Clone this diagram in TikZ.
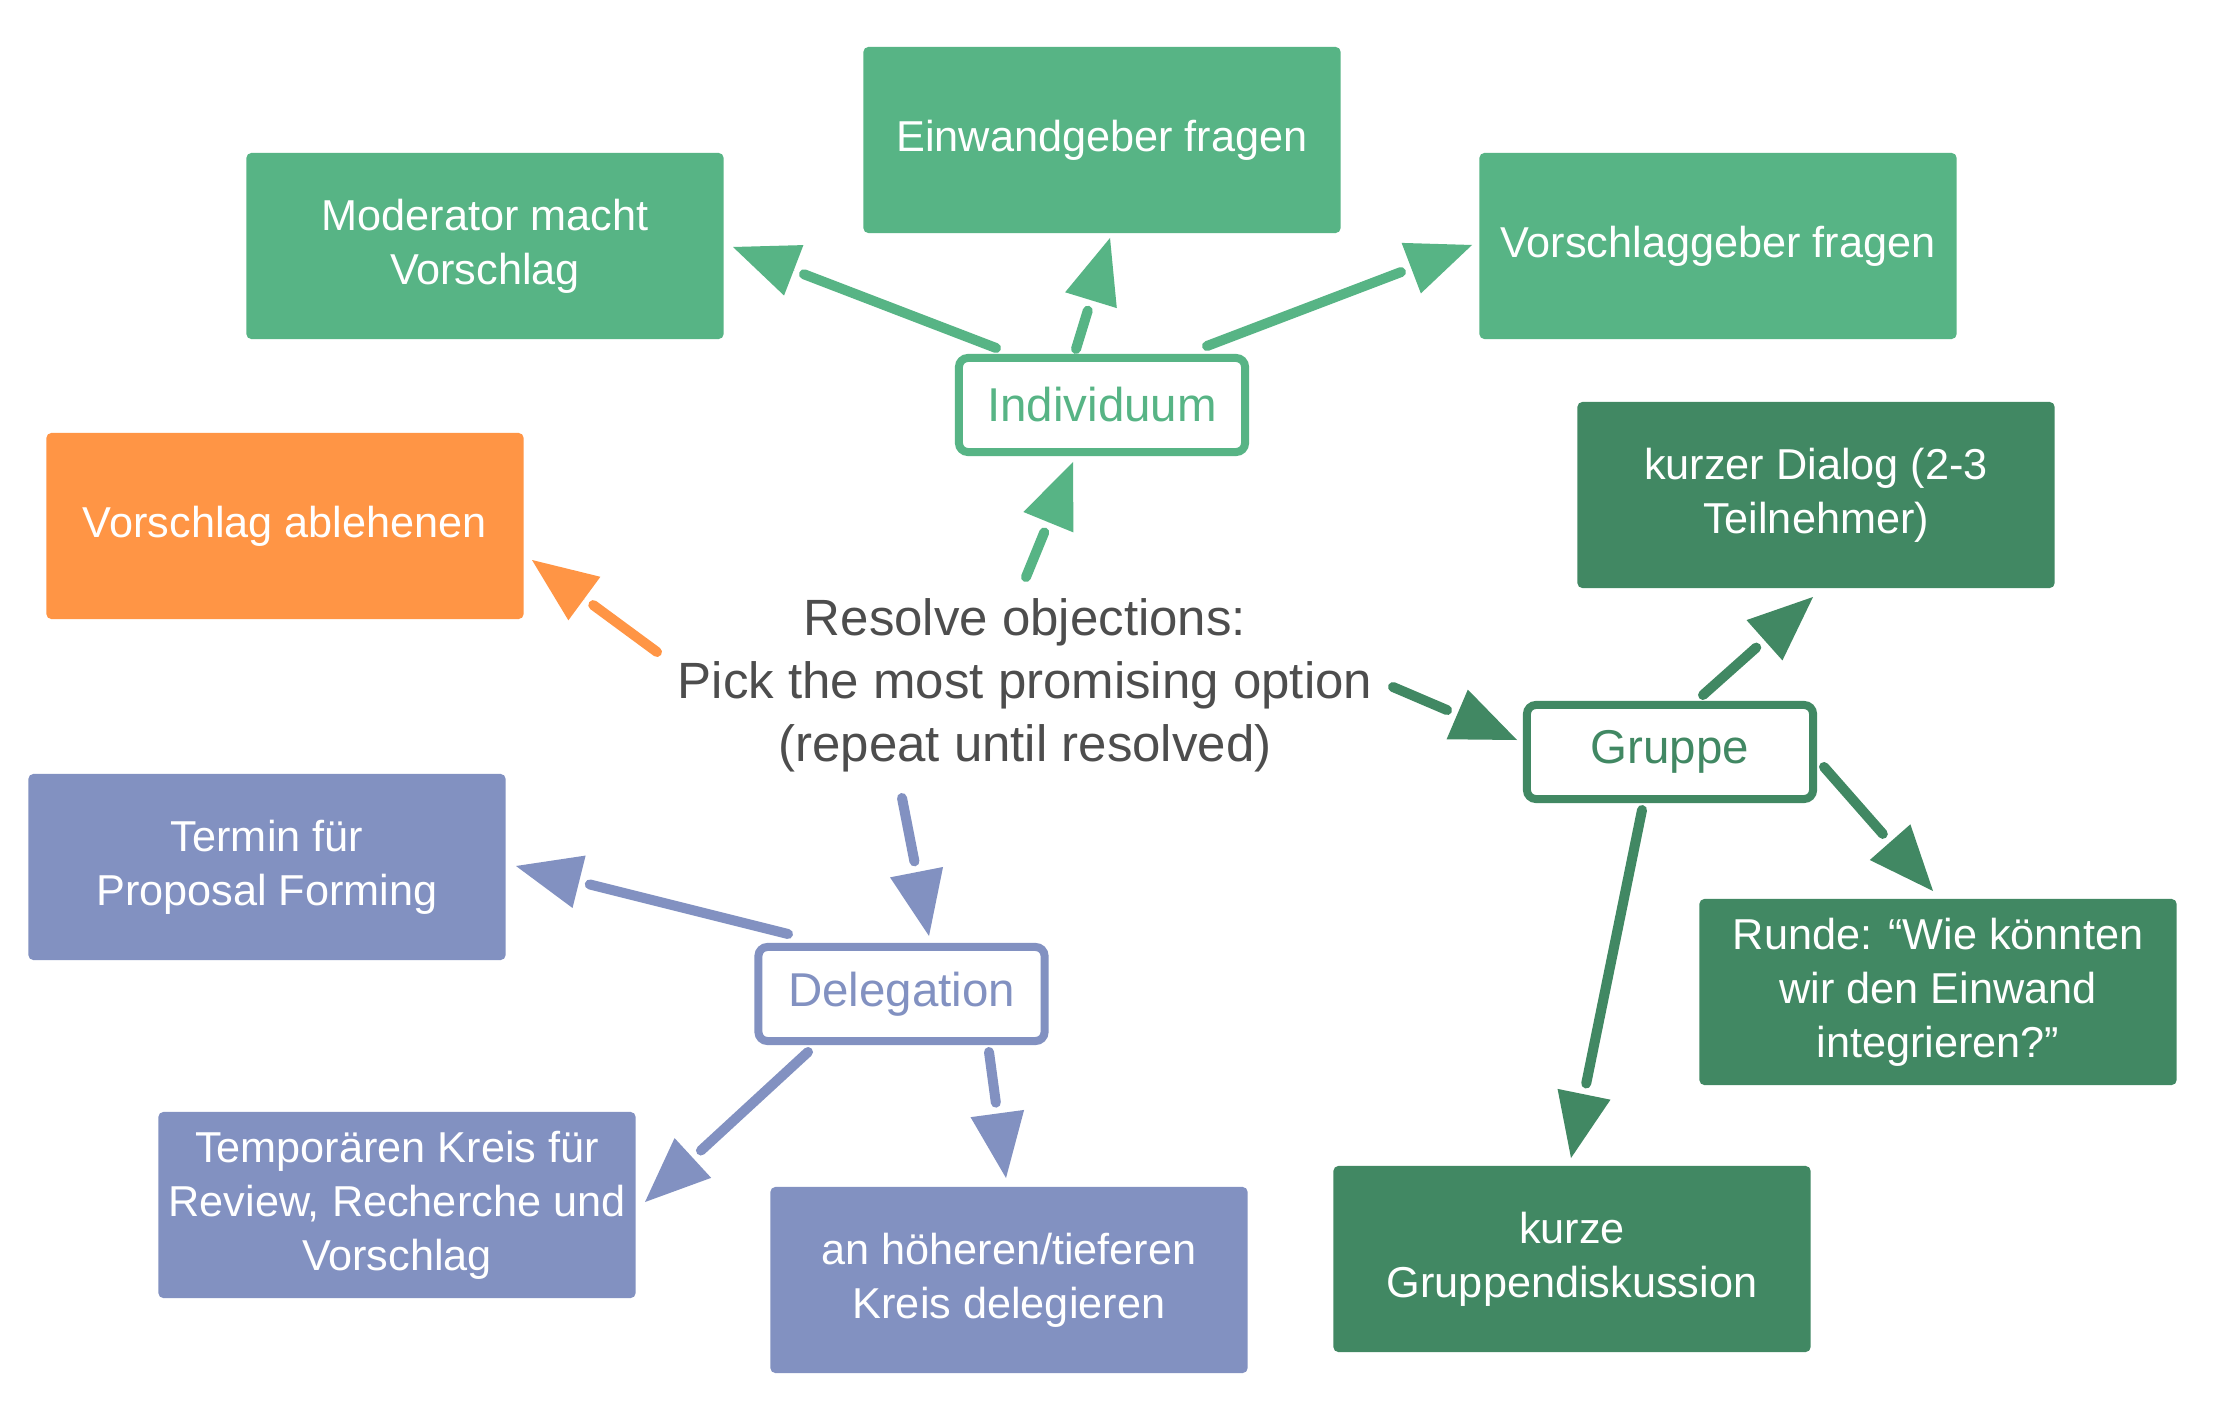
\documentclass[tikz,border=0pt]{standalone}
\usepackage{fontspec}
\setmainfont{Liberation Sans}
\usetikzlibrary{arrows.meta,calc}
\definecolor{lgreen}{RGB}{87,180,133}
\definecolor{dgreen}{RGB}{65,136,99}
\definecolor{orng}{RGB}{255,149,69}
\definecolor{purp}{RGB}{130,145,193}
\definecolor{txtgray}{RGB}{77,77,77}
\newcommand{\linkarrow}[3]{%
  \draw[shaft,#1] (#2) -- ($(#3)!0.76cm!(#2)$);
  \draw[headtip,#1] ($(#3)!0.65cm!(#2)$) -- (#3);}
\begin{document}
\begin{tikzpicture}[x=0.01cm,y=-0.01cm,
  box/.style={rectangle, rounded corners=0.05cm, minimum width=4.77cm, minimum height=1.86cm, inner sep=0pt, text=white, align=center, font=\fontsize{12.3}{15.4}\selectfont},
  tagbox/.style={rectangle, rounded corners=0.09cm, draw, line width=0.08cm, fill=white, minimum width=2.86cm, minimum height=0.94cm, inner sep=0pt, font=\fontsize{13.5}{16}\selectfont},
  shaft/.style={line width=0.1cm, line cap=round},
  headtip/.style={line width=0.1pt, -{Triangle[length=0.65cm,width=0.54cm,line width=0pt]}},
]
\fill[white] (0,0) rectangle (2216,1419);
\useasboundingbox (0,0) rectangle (2216,1419);

\node[box, fill=lgreen] (ein) at (1102,140) {Einwandgeber fragen};
\node[box, fill=lgreen] (mod) at (485,246) {Moderator macht\\Vorschlag};
\node[box, fill=lgreen] (vor) at (1718,246) {Vorschlaggeber fragen};
\node[box, fill=orng] (abl) at (285,526) {Vorschlag ablehenen};
\node[box, fill=dgreen] (dia) at (1816,495) {kurzer Dialog (2-3\\Teilnehmer)};
\node[box, fill=purp] (ter) at (267,867) {Termin für\\Proposal Forming};
\node[box, fill=purp] (tem) at (397,1205) {Temporären Kreis für\\Review, Recherche und\\Vorschlag};
\node[box, fill=purp] (hoe) at (1009,1280) {an höheren/tieferen\\Kreis delegieren};
\node[box, fill=dgreen] (run) at (1938,992) {Runde: “Wie könnten\\wir den Einwand\\integrieren?”};
\node[box, fill=dgreen] (kgd) at (1572,1259) {kurze\\Gruppendiskussion};

\node[tagbox, draw=lgreen, text=lgreen] (ind) at (1102,405) {Individuum};
\node[tagbox, draw=dgreen, text=dgreen] (gru) at (1670,752) {Gruppe};
\node[tagbox, draw=purp, text=purp] (del) at (901.5,994) {Delegation};

\node[align=center, text=txtgray, font=\fontsize{14.5}{17.9}\selectfont, inner sep=0pt] (ctr) at (1025,685) {Resolve objections:\\Pick the most promising option\\(repeat until resolved)};

\coordinate (s1) at ($(ind)+(-106,-57)$);  \coordinate (t1) at ($(mod)+(248,1)$);
\coordinate (s2) at ($(ind)+(-26,-56)$);   \coordinate (t2) at ($(ein)+(8,98)$);
\coordinate (s3) at ($(ind)+(105,-59)$);   \coordinate (t3) at ($(vor)+(-246,-1)$);
\coordinate (s4) at ($(ctr)+(1,-108)$);    \coordinate (t4) at ($(ind)+(-29,57)$);
\coordinate (s5) at ($(ctr)+(-368,-33)$);  \coordinate (t5) at ($(abl)+(247,34)$);
\coordinate (s6) at ($(ctr)+(368,2)$);     \coordinate (t6) at ($(gru)+(-153,-12)$);
\coordinate (s7) at ($(gru)+(33,-57)$);    \coordinate (t7) at ($(dia)+(-3,102)$);
\coordinate (s8) at ($(gru)+(154,15)$);    \coordinate (t8) at ($(run)+(-5,-101)$);
\coordinate (s9) at ($(gru)+(-28,58)$);    \coordinate (t9) at ($(kgd)+(-1,-101)$);
\coordinate (s10) at ($(ctr)+(-123,113)$); \coordinate (t10) at ($(del)+(27.5,-58)$);
\coordinate (s11) at ($(del)+(-113.5,-60)$); \coordinate (t11) at ($(ter)+(249,-1)$);
\coordinate (s12) at ($(del)+(-93.5,58)$); \coordinate (t12) at ($(tem)+(248,-3)$);
\coordinate (s13) at ($(del)+(87.5,58)$);  \coordinate (t13) at ($(hoe)+(-3,-102)$);

\linkarrow{lgreen}{s1}{t1}
\linkarrow{lgreen}{s2}{t2}
\linkarrow{lgreen}{s3}{t3}
\linkarrow{lgreen}{s4}{t4}
\linkarrow{orng}{s5}{t5}
\linkarrow{dgreen}{s6}{t6}
\linkarrow{dgreen}{s7}{t7}
\linkarrow{dgreen}{s8}{t8}
\linkarrow{dgreen}{s9}{t9}
\linkarrow{purp}{s10}{t10}
\linkarrow{purp}{s11}{t11}
\linkarrow{purp}{s12}{t12}
\linkarrow{purp}{s13}{t13}
\end{tikzpicture}
\end{document}
